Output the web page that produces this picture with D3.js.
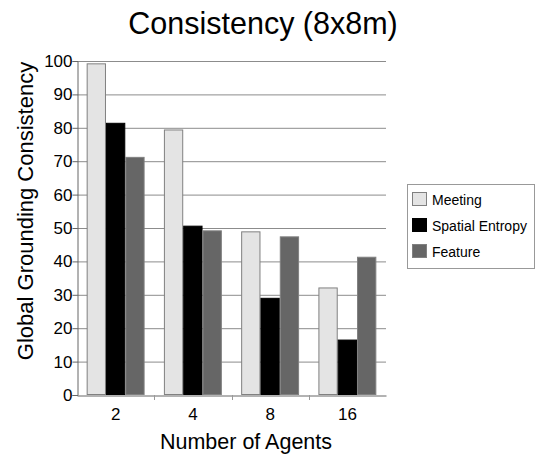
<!DOCTYPE html>
<html>
<head>
<meta charset="utf-8">
<script src="https://cdn.jsdelivr.net/npm/d3@7"></script>
<style>
  body { margin: 0; background: #fff; }
  svg { font-family: "Liberation Sans", Arial, sans-serif; }
</style>
</head>
<body>
<div id="chart"></div>
<script>
const agents = ["2", "4", "8", "16"];
const seriesNames = ["Meeting", "Spatial Entropy", "Feature"];
const meeting = [99.3, 79.5, 49.0, 32.2];
const spatialEntropy = [81.5, 50.7, 29.1, 16.6];
const feature = [71.3, 49.3, 47.5, 41.4];
const yTicks = [0, 10, 20, 30, 40, 50, 60, 70, 80, 90, 100];

const colors = ["#e4e4e4", "#000000", "#666666"];
const seriesValues = [meeting, spatialEntropy, feature];

const width = 537,
      height = 460,
      margin = ({ top: 61, right: 151, bottom: 65, left: 77 });

let svg = d3.select("#chart")
    .append("svg")
    .attr("width", width)
    .attr("height", height);

let x = d3.scaleBand()
    .domain(agents)
    .range([margin.left, width - margin.right])
    .paddingInner(0.25)
    .paddingOuter(0.125);

let xs = d3.scaleBand()
    .domain(seriesNames)
    .range([0, x.bandwidth()]);

let y = d3.scaleLinear()
    .domain([0, 100])
    .range([height - margin.bottom, margin.top]);

// gridlines
svg.append("g")
    .selectAll("line")
    .data(yTicks.filter(d => d > 0))
    .join("line")
    .attr("x1", margin.left)
    .attr("x2", width - margin.right)
    .attr("y1", d => y(d) + 0.5)
    .attr("y2", d => y(d) + 0.5)
    .attr("stroke", "#8c8c8c")
    .attr("stroke-width", 1);

// bars
let group = svg.selectAll(".grp")
    .data(agents)
    .join("g")
    .attr("class", "grp")
    .attr("transform", d => `translate(${x(d)},0)`);

group.selectAll("rect")
    .data((d, i) => seriesNames.map((s, j) => ({ s, j, v: seriesValues[j][i] })))
    .join("rect")
    .attr("x", d => xs(d.s) + 0.5)
    .attr("y", d => y(d.v) + 0.5)
    .attr("width", xs.bandwidth() - 1)
    .attr("height", d => y(0) - y(d.v) - 1)
    .attr("fill", d => colors[d.j])
    .attr("stroke", d => d.j == 1 ? "#000" : "#808080")
    .attr("stroke-width", 1);

// y axis
let yAxis = svg.append("g")
    .attr("transform", `translate(${margin.left + 0.5},0)`)
    .call(d3.axisLeft(y).tickValues(yTicks).tickSize(5).tickPadding(0));
yAxis.selectAll("text")
    .style("font-size", "17px")
    .style("font-family", "Liberation Sans, Arial, sans-serif")
    .attr("fill", "#000");
yAxis.selectAll("line").attr("stroke", "#666");
yAxis.select(".domain").attr("stroke", "#666");

// x axis
let xAxis = svg.append("g")
    .attr("transform", `translate(0,${y(0) + 0.5})`)
    .call(d3.axisBottom(x).tickSize(0).tickPadding(12));
xAxis.select(".domain").attr("stroke", "#666");
xAxis.selectAll("text")
    .style("font-size", "17px")
    .style("font-family", "Liberation Sans, Arial, sans-serif")
    .attr("fill", "#000");

// tick marks between groups
svg.append("g")
    .selectAll("line")
    .data(agents.slice(1))
    .join("line")
    .attr("x1", d => Math.round(x(d) - x.step() * x.paddingInner() / 2) + 0.5)
    .attr("x2", d => Math.round(x(d) - x.step() * x.paddingInner() / 2) + 0.5)
    .attr("y1", y(0))
    .attr("y2", y(0) + 5)
    .attr("stroke", "#999");

// title
svg.append("text")
    .attr("x", 263)
    .attr("y", 34)
    .attr("text-anchor", "middle")
    .style("font-size", "30.5px")
    .text("Consistency (8x8m)");

svg.append("text")
    .attr("x", 246)
    .attr("y", 449)
    .attr("text-anchor", "middle")
    .style("font-size", "21.5px")
    .text("Number of Agents");

svg.append("text")
    .attr("transform", "rotate(-90)")
    .attr("x", -211)
    .attr("y", 33)
    .attr("text-anchor", "middle")
    .style("font-size", "22px")
    .text("Global Grounding Consistency");

// legend
let legend = svg.append("g")
    .attr("transform", "translate(407,184)");

legend.append("rect")
    .attr("x", 0.5)
    .attr("y", 0.5)
    .attr("width", 127)
    .attr("height", 84)
    .attr("fill", "#fff")
    .attr("stroke", "#999");

let item = legend.selectAll(".item")
    .data(seriesNames)
    .join("g")
    .attr("class", "item")
    .attr("transform", (d, i) => `translate(5,${8 + i * 26})`);

item.append("rect")
    .attr("x", 0.5)
    .attr("y", 0.5)
    .attr("width", 14)
    .attr("height", 13)
    .attr("fill", (d, i) => colors[i])
    .attr("stroke", (d, i) => i == 1 ? "#000" : "#808080");

item.append("text")
    .attr("x", 20)
    .attr("y", 13)
    .style("font-size", "14px")
    .text(d => d);
</script>
</body>
</html>
